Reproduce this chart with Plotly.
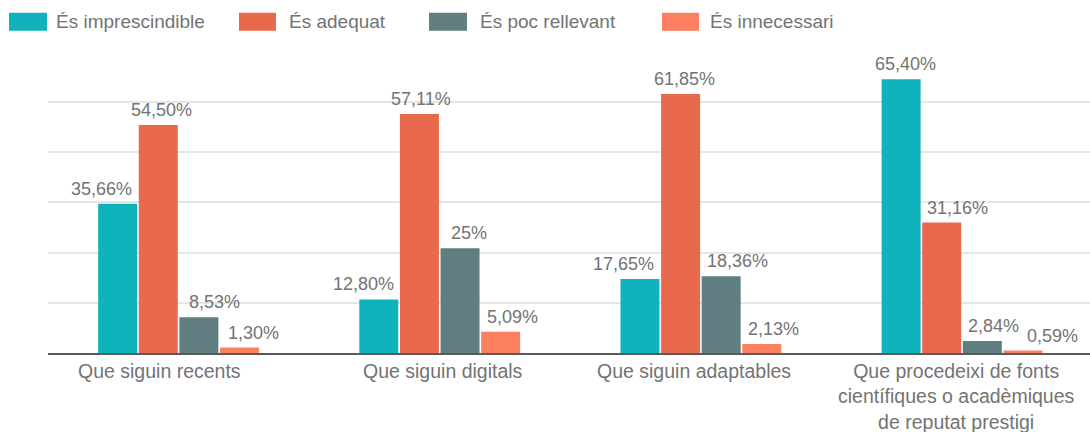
import plotly.graph_objects as go

# ---------------- data ----------------
categories = [
    "Que siguin recents",
    "Que siguin digitals",
    "Que siguin adaptables",
    "Que procedeixi de fonts<br>científiques o acadèmiques<br>de reputat prestigi",
]
series_names = ["És imprescindible", "És adequat", "És poc rellevant", "És innecessari"]
imprescindible = [35.66, 12.80, 17.65, 65.40]
adequat = [54.50, 57.11, 61.85, 31.16]
poc_rellevant = [8.53, 25.00, 18.36, 2.84]
innecessari = [1.30, 5.09, 2.13, 0.59]
series_values = [imprescindible, adequat, poc_rellevant, innecessari]

# ---------------- style ----------------
colors = ["#10b3bb", "#e8694b", "#607d80", "#fc7f5f"]
FONT = "Liberation Sans, Arial, sans-serif"
TXT = "#737373"
W, H = 1090, 432
ML, MR, MT, MB = 48, 0, 60, 79
BARGAP = 0.378
XRANGE = [-0.5, 3.49]
# horizontal nudges (px) of value labels, per series, per category
label_nudge = [
    [-16.5, -15, -16, 4.5],
    [3.5, 1.7, 3.7, 16],
    [16, 9, 16.5, 11],
    [14, 12, 12, 30],
]
# horizontal nudges (px) of category labels
cat_nudge = [-19, 3, -7, -6]


def fmt(v):
    if abs(v - round(v)) < 1e-9:
        return f"{int(round(v))}%"
    return f"{v:.2f}".replace(".", ",") + "%"


fig = go.Figure()
for name, vals, col in zip(series_names, series_values, colors):
    fig.add_trace(go.Bar(
        name=name, x=categories, y=vals,
        marker=dict(color=col, line=dict(width=0)),
        showlegend=False,
        hovertemplate="%{y}<extra>" + name + "</extra>",
    ))

plot_w = W - ML - MR
plot_h = H - MT - MB
cat_w = plot_w / (XRANGE[1] - XRANGE[0])
slot = cat_w * (1 - BARGAP) / len(series_names)

annotations = []
for i, (vals, nudges) in enumerate(zip(series_values, label_nudge)):
    off = (i - (len(series_names) - 1) / 2) * slot
    for cat, v, dx in zip(categories, vals, nudges):
        annotations.append(dict(
            x=cat, y=v, xref="x", yref="y", text=fmt(v), showarrow=False,
            xanchor="center", yanchor="bottom", xshift=off + dx, yshift=3,
            font=dict(family=FONT, size=18, color=TXT),
        ))

# category labels under the axis
for cat, dx in zip(categories, cat_nudge):
    annotations.append(dict(
        x=cat, y=0, xref="x", yref="paper", text=cat, showarrow=False,
        xanchor="center", yanchor="top", xshift=dx, yshift=-5, align="center",
        font=dict(family=FONT, size=19.5, color=TXT),
    ))

# custom legend (swatches + labels), positioned in pixels
legend_swatch_x = [(9, 47), (239, 276), (429, 467), (662, 699)]
legend_text_x = [54, 287, 478, 708]
sw_y = (12.7, 30.7)


def px_x(p):
    return (p - ML) / plot_w


def px_y(p):
    return (H - MB - p) / plot_h


shapes = []
for (x0, x1), col in zip(legend_swatch_x, colors):
    shapes.append(dict(
        type="rect", xref="paper", yref="paper",
        x0=px_x(x0), x1=px_x(x1), y0=px_y(sw_y[1]), y1=px_y(sw_y[0]),
        fillcolor=col, line=dict(width=0),
    ))
for name, tx in zip(series_names, legend_text_x):
    annotations.append(dict(
        x=px_x(tx), y=px_y(21.7), xref="paper", yref="paper", text=name,
        showarrow=False, xanchor="left", yanchor="middle",
        font=dict(family=FONT, size=19, color=TXT),
    ))

fig.update_layout(
    width=W, height=H,
    margin=dict(l=ML, r=MR, t=MT, b=MB, pad=0, autoexpand=False),
    barmode="group", bargap=BARGAP, bargroupgap=0.04,
    plot_bgcolor="white", paper_bgcolor="white",
    font=dict(family=FONT, color=TXT),
    annotations=annotations, shapes=shapes,
    showlegend=False,
    xaxis=dict(
        range=XRANGE, showgrid=False, showline=True, linecolor="#5a5a5a",
        linewidth=2, ticks="", showticklabels=False, automargin=False,
        fixedrange=True,
    ),
    yaxis=dict(
        range=[0, 70], dtick=12, tick0=0, showticklabels=False, ticks="",
        showgrid=True, gridcolor="#e6e6e6", gridwidth=2, zeroline=False,
        showline=False, fixedrange=True, automargin=False,
    ),
)

fig.write_html(
    "out.html",
    config={"displayModeBar": False},
    post_script="document.body.style.margin='0';document.body.style.overflow='hidden';",
)
